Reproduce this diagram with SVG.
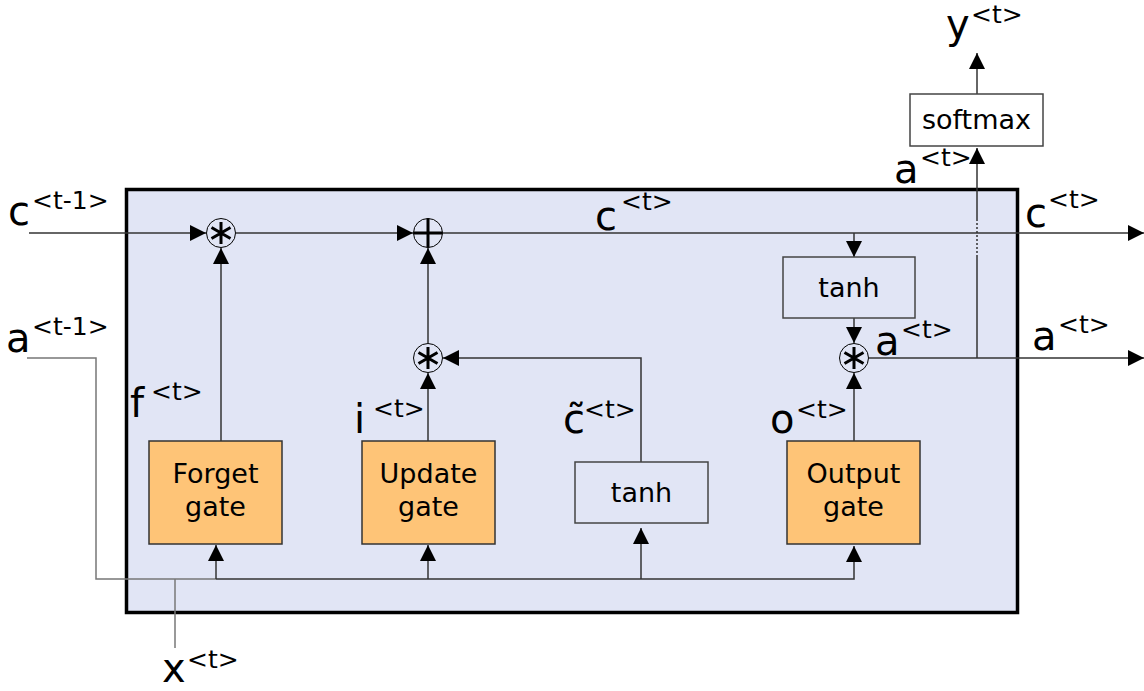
<svg xmlns="http://www.w3.org/2000/svg" width="1144" height="691" viewBox="0 0 1144 691">
<defs>
<marker id="ah" viewBox="0 0 16 16" refX="16" refY="8" markerWidth="16" markerHeight="16" markerUnits="userSpaceOnUse" orient="auto">
<path d="M0,0 L16,8 L0,16 Z" fill="#000"/>
</marker>
</defs>
<style>
.ln{fill:none;stroke:#333;stroke-width:1.5}
.gl{fill:none;stroke:#777;stroke-width:1.5}
.ar{marker-end:url(#ah)}
.gate{fill:#fec477;stroke:#333;stroke-width:1.5}
.box{fill:none;stroke:#444;stroke-width:1.5}
.wbox{fill:#fff;stroke:#444;stroke-width:1.5}
.op{fill:none;stroke:#000;stroke-width:1}
.sym{fill:none;stroke:#000;stroke-width:3}
.t{font-family:"DejaVu Sans",Verdana,sans-serif;fill:#000}
.big{font-size:40px}
.sup{font-size:25px}
.lbl{font-size:27px;text-anchor:middle}
</style>
<rect x="126.5" y="189.5" width="891" height="423" fill="#e1e5f5" stroke="#000" stroke-width="3.5"/>
<g id="connectors">
<path class="ln ar" d="M29,233 H206"/>
<path class="ln ar" d="M236,233 H413"/>
<path class="ln ar" d="M443,233 H1144"/>
<path class="ln ar" d="M854,233 V257"/>
<path class="ln ar" d="M854,318 V343"/>
<path class="ln ar" d="M869,358 H1144"/>
<path class="ln" d="M977,358 V257"/>
<path class="ln" d="M977,257 V220" stroke-dasharray="2,2"/>
<path class="ln ar" d="M977,220 V148"/>
<path class="ln ar" d="M977,94 V53"/>
<path class="ln ar" d="M221,441 V248"/>
<path class="ln ar" d="M428,441 V373"/>
<path class="ln ar" d="M428,343 V248"/>
<path class="ln ar" d="M641,462 V358 H443"/>
<path class="ln ar" d="M854,441 V373"/>
<path class="gl" d="M27,358 H96 V579 H216"/>
<path class="ln ar" d="M216,579 H854 V546"/>
<path class="ln ar" d="M216,579 V545"/>
<path class="ln ar" d="M428,579 V545"/>
<path class="ln ar" d="M641,579 V528"/>
<path class="gl" d="M175,648 V579"/>
</g>
<g id="mul1">
<circle class="op" cx="221" cy="233" r="14.5"/>
<path class="sym" d="M221,222 V244 M211.5,227.5 L230.5,238.5 M211.5,238.5 L230.5,227.5"/>
</g>
<g id="add">
<circle class="op" cx="428" cy="233" r="14.5"/>
<path class="sym" d="M428,218.5 V247.5 M413.5,233 H442.5"/>
</g>
<g id="mul2">
<circle class="op" cx="428" cy="358" r="14.5"/>
<path class="sym" d="M428,347 V369 M418.5,352.5 L437.5,363.5 M418.5,363.5 L437.5,352.5"/>
</g>
<g id="mul3">
<circle class="op" cx="854" cy="358" r="14.5"/>
<path class="sym" d="M854,347 V369 M844.5,352.5 L863.5,363.5 M844.5,363.5 L863.5,352.5"/>
</g>
<g id="forget">
<rect class="gate" x="149" y="441" width="133" height="103"/>
<text class="t lbl" x="215.5" y="483">Forget</text>
<text class="t lbl" x="215.5" y="516">gate</text>
</g>
<g id="update">
<rect class="gate" x="362" y="441" width="133" height="103"/>
<text class="t lbl" x="428.5" y="483">Update</text>
<text class="t lbl" x="428.5" y="516">gate</text>
</g>
<g id="output">
<rect class="gate" x="787" y="441" width="133" height="103"/>
<text class="t lbl" x="853.5" y="483">Output</text>
<text class="t lbl" x="853.5" y="516">gate</text>
</g>
<g id="tanh1">
<rect class="box" x="575" y="462" width="133" height="61"/>
<text class="t lbl" x="641.5" y="502">tanh</text>
</g>
<g id="tanh2">
<rect class="box" x="783" y="257" width="132" height="61"/>
<text class="t lbl" x="849" y="297">tanh</text>
</g>
<g id="softmax">
<rect class="wbox" x="910" y="94" width="133" height="52"/>
<text class="t lbl" x="976.5" y="129">softmax</text>
</g>
<g id="labels">
<text class="t big" x="8" y="225">c</text><text class="t sup" x="32" y="209">&lt;t-1&gt;</text>
<text class="t big" x="6" y="352">a</text><text class="t sup" x="32" y="335">&lt;t-1&gt;</text>
<text class="t big" x="130" y="417">f</text><text class="t sup" x="151" y="400">&lt;t&gt;</text>
<text class="t big" x="354" y="433">i</text><text class="t sup" x="373" y="417">&lt;t&gt;</text>
<text class="t big" x="563" y="433">c̃</text><text class="t sup" x="584" y="418">&lt;t&gt;</text>
<text class="t big" x="770" y="433">o</text><text class="t sup" x="796" y="418">&lt;t&gt;</text>
<text class="t big" x="595" y="230">c</text><text class="t sup" x="621" y="210">&lt;t&gt;</text>
<text class="t big" x="875" y="355">a</text><text class="t sup" x="901" y="338">&lt;t&gt;</text>
<text class="t big" x="1025" y="227">c</text><text class="t sup" x="1048" y="208">&lt;t&gt;</text>
<text class="t big" x="1032" y="350">a</text><text class="t sup" x="1058" y="333">&lt;t&gt;</text>
<text class="t big" x="894" y="183">a</text><text class="t sup" x="920" y="166">&lt;t&gt;</text>
<text class="t big" x="946" y="38">y</text><text class="t sup" x="971" y="23">&lt;t&gt;</text>
<text class="t big" x="162" y="682">x</text><text class="t sup" x="187" y="668">&lt;t&gt;</text>
</g>
</svg>
